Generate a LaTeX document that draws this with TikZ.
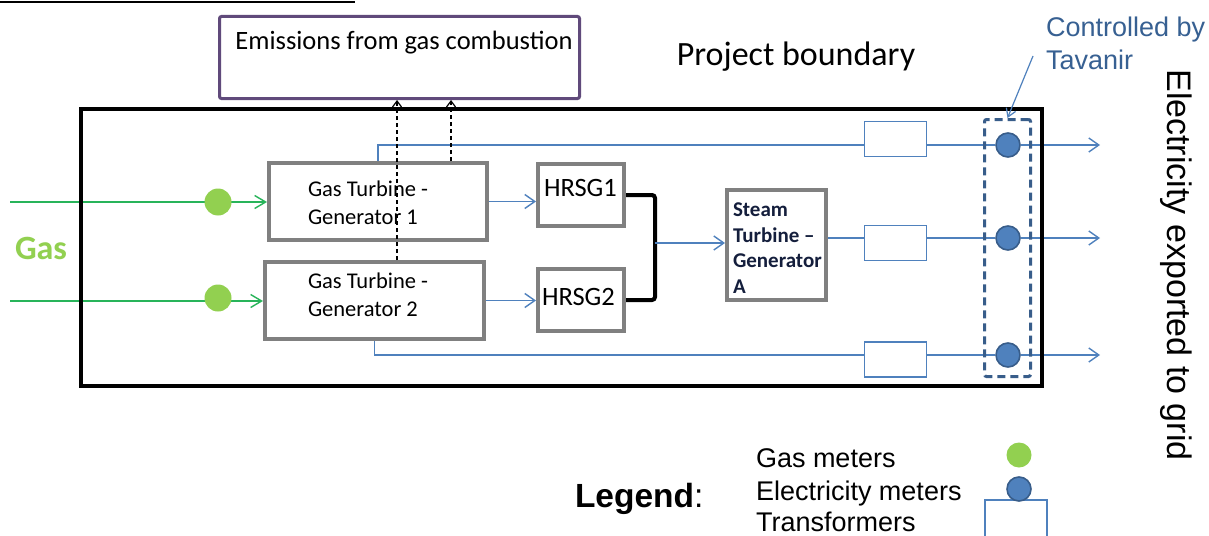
\documentclass[tikz,border=0pt]{standalone}
\usepackage{fontspec}
\setmainfont{Carlito}
\newfontfamily\arialf{Liberation Sans}
\usetikzlibrary{arrows.meta,backgrounds,calc}
\definecolor{purp}{RGB}{96,74,123}
\definecolor{boxgray}{RGB}{128,128,128}
\definecolor{eblue}{RGB}{79,129,189}
\definecolor{dblue}{RGB}{56,93,138}
\definecolor{gasline}{RGB}{40,180,90}
\definecolor{gasgreen}{RGB}{146,208,80}
\definecolor{ctrlblue}{RGB}{55,96,146}
\definecolor{stext}{RGB}{20,30,60}
\newcommand\fsz[2]{\fontsize{#1}{#2}\selectfont}
\begin{document}
\begin{tikzpicture}[x=1pt,y=-1pt,
  unitbox/.style={draw=boxgray, line width=4pt, inner sep=0pt},
  trafo/.style={draw=eblue, line width=1.3pt, fill=white, minimum width=62pt, minimum height=35pt, inner sep=0pt},
  emeter/.style={circle, fill=eblue, draw=dblue, line width=1.6pt, minimum size=24pt, inner sep=0pt},
  gmeter/.style={circle, fill=gasgreen, minimum size=27pt, inner sep=0pt},
  bflow/.style={draw=eblue, line width=1.4pt},
  barb/.style={-{Straight Barb[length=10pt,width=14pt]}},
  gflow/.style={draw=gasline, line width=1.4pt, -{Straight Barb[length=11pt,width=13pt]}},
  emis/.style={dash pattern=on 4pt off 3pt, line width=1.2pt, -{Straight Barb[length=6pt,width=9pt]}},
  txt/.style={inner sep=0pt, outer sep=0pt}
]
\useasboundingbox (0,0) rectangle (1209,535);
\draw[line width=2pt] (0,2) -- (355,2);

% boxes
\node[draw=purp, line width=3pt, rounded corners=2pt, minimum width=360pt, minimum height=82pt, inner sep=0pt] (emis) at (399.5,57.5) {};
\node[txt, anchor=base, font=\fsz{26.5}{30}] (emistxt) at (404,49) {Emissions from gas combustion};
\node[txt, anchor=base, font=\fsz{34}{38}] (pb) at (796,66) {Project boundary};
\node[txt, anchor=base west, align=left, text=ctrlblue, font=\arialf\fsz{27}{33}] (ctrl) at (1046,70) {Controlled by\\Tavanir};

\node[draw, line width=4pt, minimum width=961pt, minimum height=277pt, inner sep=0pt] (boundary) at (561.5,247.5) {};

\node[unitbox, minimum width=218pt, minimum height=77pt] (gt1) at (378,201.5) {};
\node[unitbox, minimum width=219pt, minimum height=77pt] (gt2) at (374.5,300.5) {};
\node[unitbox, minimum width=86pt, minimum height=62pt] (hrsg1) at (581,195) {};
\node[unitbox, minimum width=86pt, minimum height=62pt] (hrsg2) at (581,300) {};
\node[unitbox, minimum width=99pt, minimum height=110pt] (st) at (776.5,245) {};

\node[txt, anchor=base west, align=left, font=\fsz{22.5}{28}] (gt1txt) at (308,224) {Gas Turbine -\\Generator 1};
\node[txt, anchor=base west, align=left, font=\fsz{22.5}{28}] (gt2txt) at (308,316) {Gas Turbine -\\Generator 2};
\node[txt, anchor=base west, font=\fsz{26.5}{30}] (h1txt) at (544,196) {HRSG1};
\node[txt, anchor=base west, font=\fsz{26.5}{30}] (h2txt) at (542,305) {HRSG2};
\node[txt, anchor=base west, align=left, text=stext, font=\bfseries\fsz{21}{25.5}] (sttxt) at (733,293) {Steam\\Turbine --\\Generator\\A};

\node[trafo] (T1) at (895.5,139) {};
\node[trafo] (T2) at (895.5,243) {};
\node[trafo] (T3) at (895.5,359.5) {};

\node[draw=dblue, line width=3pt, dash pattern=on 8pt off 5pt, rounded corners=2pt, minimum width=46pt, minimum height=257pt, inner sep=0pt] (db) at (1007.5,248) {};

\node[emeter] (m1) at (1008,145) {};
\node[emeter] (m2) at (1008,238) {};
\node[emeter] (m3) at (1008,355) {};

\node[gmeter] (gm1) at (218,202) {};
\node[gmeter] (gm2) at (218,298) {};

\node[txt, anchor=base west, text=gasgreen, font=\bfseries\fsz{34}{38}] (gas) at (15,259) {Gas};

\node[txt, rotate=-90, anchor=center, font=\arialf\fsz{34}{38}] (elec) at (1176,265) {Electricity exported to grid};

% legend
\node[txt, anchor=base west, font=\arialf\fsz{33.5}{36}] (leg) at (575,507) {\textbf{Legend}:};
\node[txt, anchor=base west, font=\arialf\fsz{27}{30}] (lg1) at (756,467) {Gas meters};
\node[txt, anchor=base west, font=\arialf\fsz{27}{30}] (lg2) at (756,500) {Electricity meters};
\node[txt, anchor=base west, font=\arialf\fsz{27}{30}] (lg3) at (756,531) {Transformers};
\node[trafo, minimum height=44pt] (lt) at (1016,522) {};
\node[circle, fill=gasgreen, minimum width=25pt, inner sep=0pt] (lgm) at (1019,455) {};
\node[emeter] (lem) at (1019,489) {};

% coordinates
\coordinate (g1s) at (10,202);
\coordinate (g2s) at (10,301);
\coordinate (j) at (655,243);
\coordinate (e1) at (1100,145);
\coordinate (e2) at (1100,238);
\coordinate (e3) at (1100,355);
\coordinate (x1) at (397,0);
\coordinate (x2) at (451,0);
\coordinate (cs) at (1033,56);

\begin{scope}[on background layer]
\fill[white] (0,0) rectangle (1209,535);
\draw[gflow] (g1s) -- (gt1.west |- g1s);
\draw[gflow] (g2s) -- (gt2.west |- g2s);
\draw[bflow, barb] (gt1.east) -- (hrsg1.west |- gt1.east);
\draw[bflow, barb] (gt2.east) -- (hrsg2.west |- gt2.east);
\draw[line width=4pt, rounded corners=3pt] (hrsg1.east) -| (j) |- (hrsg2.east);
\draw[bflow, barb] (j) -- (st.west |- j);
\draw[bflow] (gt1.north) |- (T1.west |- m1);
\draw[bflow] (st.east |- m2) -- (T2.west |- m2);
\draw[bflow] (gt2.south) |- (T3.west |- m3);
\draw[bflow] (T1.east |- m1) -- (m1.west);
\draw[bflow] (T2.east |- m2) -- (m2.west);
\draw[bflow] (T3.east |- m3) -- (m3.west);
\draw[bflow, barb] (m1.east) -- (e1);
\draw[bflow, barb] (m2.east) -- (e2);
\draw[bflow, barb] (m3.east) -- (e3);
\end{scope}
\draw[emis] (gt2.north -| x1) -- (emis.south -| x1);
\draw[emis] (gt1.north -| x2) -- (emis.south -| x2);
\draw[draw=eblue, line width=1.2pt, -{Straight Barb[length=8pt,width=10pt]}] (cs) -- (db.north);
\end{tikzpicture}
\end{document}
